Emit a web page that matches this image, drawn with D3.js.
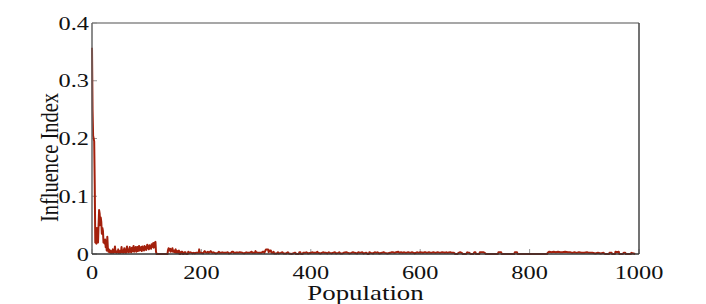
<!DOCTYPE html>
<html>
<head>
<meta charset="utf-8">
<script src="https://cdn.jsdelivr.net/npm/d3@7"></script>
<style>
  body { margin: 0; background: #fff; }
  svg { display: block; }
  text { font-family: "Liberation Serif", "DejaVu Serif", serif; fill: #111; }
</style>
</head>
<body>
<div id="chart"></div>
<script>
// axis ticks / labels
var xTicks = [0, 200, 400, 600, 800, 1000];
var yTicks = [0, 0.1, 0.2, 0.3, 0.4];
var xLabel = "Population";
var yLabel = "Influence Index";

// influence index per population member [population, value]
var influence = [
  [0,.357],[1,.25],[2,.205],[3,.2],[4,.195],[5,.12],[6,.02],[7,.02],[8,.018],[9,.045],
  [10,.02],[11,.02],[12,.05],[13,.076],[14,.07],[15,.05],[16,.063],[17,.055],[18,.035],[19,.045],
  [20,.04],[21,.02],[22,.022],[23,.018],[24,.025],[25,.012],[26,.015],[27,.006],[28,.03],[29,.01],
  [30,.004],[31,.008],[32,.003],[33,.006],[34,.002],[35,.005],[36,.002],[37,.004],[38,.008],[39,.002],
  [40,.003],[41,.006],[42,.013],[43,.003],[44,.005],[45,.002],[46,.004],[47,.003],[48,.008],[49,.002],
  [50,.003],[51,.005],[52,.002],[53,.004],[54,.012],[55,.003],[56,.006],[57,.002],[58,.004],[59,.01],
  [60,.003],[61,.006],[62,.002],[63,.009],[64,.013],[65,.004],[66,.008],[67,.003],[68,.006],[69,.012],
  [70,.004],[71,.009],[72,.003],[73,.011],[74,.005],[75,.008],[76,.014],[77,.004],[78,.009],[79,.006],
  [80,.012],[81,.004],[82,.008],[83,.012],[84,.005],[85,.01],[86,.014],[87,.006],[88,.011],[89,.007],
  [90,.012],[91,.005],[92,.013],[93,.008],[94,.011],[95,.006],[96,.014],[97,.009],[98,.012],[99,.007],
  [100,.011],[101,.016],[102,.01],[103,.013],[104,.008],[105,.015],[106,.011],[107,.013],[108,.009],[109,.017],
  [110,.012],[111,.014],[112,.019],[113,.011],[114,.016],[115,.02],[116,.021],[117,.004],[118,0],[138,0],
  [139,.007],[140,.01],[141,.006],[143,.009],[144,.004],[146,.007],[147,.01],[148,.004],[150,.006],[151,.003],
  [153,.008],[154,.002],[156,.005],[157,.002],[159,.006],[160,0],[162,0],[163,.004],[165,.004],[166,0],
  [168,0],[169,.003],[171,.003],[172,0],[175,0],[176,.004],[178,.002],[180,.003],[182,.002],[184,.001],
  [186,.002],[188,.001],[190,.002],[195,.002],[196,.008],[197,.002],[200,.002],[203,.001],[205,.004],[206,.005],
  [208,.003],[210,.002],[212,.004],[213,.002],[215,.003],[217,.005],[218,.004],[220,.002],[222,.003],[224,.002],
  [226,.001],[230,.002],[232,.004],[233,.002],[236,.002],[238,.003],[240,.002],[245,.002],[248,.003],[250,.001],
  [254,.002],[256,.004],[258,.004],[259,.002],[263,.002],[265,.003],[267,.002],[270,.003],[275,.002],[278,.001],
  [282,.003],[284,.002],[288,.002],[292,.004],[293,.002],[298,.002],[299,.005],[300,.003],[304,.002],[310,.002],
  [312,.004],[314,.004],[315,.002],[318,.008],[319,.008],[322,.008],[323,.003],[325,.006],[327,.006],[328,.002],
  [330,.002],[332,.004],[333,.001],[338,.001],[340,.003],[341,.001],[345,.002],[348,.003],[350,.001],[355,.001],
  [358,.003],[360,.001],[365,0],[370,.002],[372,.002],[373,0],[378,0],[379,.003],[381,.003],[382,0],
  [385,0],[386,.002],[390,.002],[392,.003],[395,.001],[400,.002],[403,.003],[405,.002],[410,.002],[412,.004],
  [413,.002],[418,.001],[420,.002],[423,.003],[425,.002],[428,.002],[430,.001],[433,.003],[435,.002],[438,.001],
  [440,.002],[444,.003],[446,.001],[450,.002],[452,.003],[454,.001],[458,.001],[460,.002],[465,.003],[468,.002],
  [470,.001],[474,.002],[477,.003],[480,.002],[485,.001],[487,.003],[490,.002],[494,.003],[496,.001],[500,.002],
  [502,.002],[504,0],[506,0],[507,.003],[510,.002],[514,.001],[517,.003],[520,.002],[522,.003],[525,.001],
  [530,.002],[533,.003],[536,.002],[540,.001],[545,.002],[548,.003],[550,.003],[553,.002],[556,.003],[560,.004],
  [562,.002],[565,.003],[568,.002],[570,.003],[574,.002],[578,.003],[582,.002],[585,.003],[588,.002],[590,.001],
  [594,.003],[597,.002],[600,.003],[605,.002],[608,.003],[610,.003],[612,.002],[616,.003],[620,.002],[624,.003],
  [628,.002],[632,.003],[636,.002],[640,.003],[645,.002],[648,.003],[650,.002],[655,.003],[658,.002],[662,.002],
  [664,0],[668,0],[670,.002],[673,.003],[676,.002],[678,0],[684,0],[686,.003],[688,.002],[690,.002],
  [692,0],[697,0],[699,.003],[701,.003],[702,0],[708,0],[709,.003],[712,.003],[716,.003],[718,.002],
  [720,0],[742,0],[743,.003],[748,.003],[749,0],[772,0],[773,.003],[777,.003],[778,0],[832,0],
  [833,.002],[836,.004],[840,.003],[844,.004],[848,.003],[852,.004],[856,.003],[860,.003],[865,.004],[870,.003],
  [874,.003],[878,.002],[882,.003],[886,.002],[890,.003],[895,.002],[900,.002],[905,.003],[908,.002],[915,.002],
  [920,.001],[925,.002],[930,.001],[935,.002],[938,0],[945,0],[946,.002],[950,.002],[951,0],[956,0],
  [957,.004],[960,.003],[963,.004],[964,0],[970,0],[972,.002],[975,.002],[976,0],[985,0],[986,.002],
  [990,.001],[993,0]
];

var width = 706, height = 304;
var margin = { top: 23, right: 67, bottom: 50, left: 92 };
var innerW = width - margin.left - margin.right;
var innerH = height - margin.top - margin.bottom;
var stretch = 1.28; // text in the picture is a bit wide

var svg = d3.select("#chart").append("svg")
    .attr("width", width)
    .attr("height", height);

var g = svg.append("g")
    .attr("transform", "translate(" + margin.left + "," + margin.top + ")");

var x = d3.scaleLinear().domain([0, 1000]).range([0, innerW]);
var y = d3.scaleLinear().domain([0, 0.4]).range([innerH, 0]);

// inward ticks
g.selectAll(".xtick")
    .data(xTicks)
    .enter().append("line")
    .attr("x1", d => x(d)).attr("x2", d => x(d))
    .attr("y1", innerH).attr("y2", innerH - 5)
    .attr("stroke", "#999").attr("stroke-width", 1);

g.selectAll(".ytick")
    .data(yTicks)
    .enter().append("line")
    .attr("x1", 0).attr("x2", 5)
    .attr("y1", d => y(d)).attr("y2", d => y(d))
    .attr("stroke", "#999").attr("stroke-width", 1);

// the series
var line = d3.line()
    .x(d => x(d[0]))
    .y(d => y(d[1]));

g.append("path")
    .datum(influence)
    .attr("fill", "none")
    .attr("stroke", "#a3200c")
    .attr("stroke-width", 2)
    .attr("stroke-linejoin", "round")
    .attr("d", line);

// box
g.append("line").attr("x1", 0).attr("x2", innerW).attr("y1", 0).attr("y2", 0)
    .attr("stroke", "#8a8a8a").attr("stroke-width", 1.5);
g.append("line").attr("x1", innerW).attr("x2", innerW).attr("y1", 0).attr("y2", innerH)
    .attr("stroke", "#444").attr("stroke-width", 1.5);
g.append("line").attr("x1", 0).attr("x2", 0).attr("y1", 0).attr("y2", innerH)
    .attr("stroke", "#666").attr("stroke-width", 1.5);
g.append("line").attr("x1", 0).attr("x2", innerW).attr("y1", innerH).attr("y2", innerH)
    .attr("stroke", "#333").attr("stroke-width", 1.5);

// tick labels
g.selectAll(".xlab")
    .data(xTicks)
    .enter().append("text")
    .attr("transform", d => "translate(" + x(d) + "," + (innerH + 25) + ") scale(" + stretch + ",1)")
    .attr("text-anchor", "middle")
    .attr("font-size", "19px")
    .text(d => d);

g.selectAll(".ylab")
    .data(yTicks)
    .enter().append("text")
    .attr("transform", d => "translate(-3," + (y(d) + 6.5) + ") scale(" + stretch + ",1)")
    .attr("text-anchor", "end")
    .attr("font-size", "19px")
    .text(d => d === 0 ? "0" : d3.format(".1f")(d));

// axis titles
svg.append("text")
    .attr("transform", "translate(" + (margin.left + innerW / 2) + ",300) scale(" + stretch + ",1)")
    .attr("text-anchor", "middle")
    .attr("font-size", "21px")
    .text(xLabel);

svg.append("text")
    .attr("transform", "translate(58," + (margin.top + innerH / 2 + 19) + ") scale(" + stretch + ",1) rotate(-90)")
    .attr("text-anchor", "middle")
    .attr("font-size", "20.5px")
    .text(yLabel);
</script>
</body>
</html>
